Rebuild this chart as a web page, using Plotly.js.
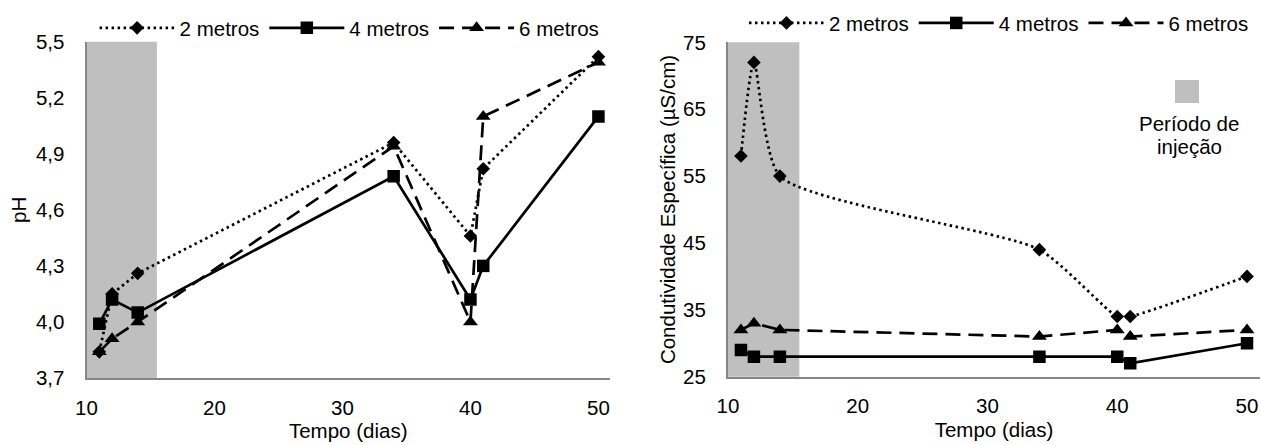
<!DOCTYPE html>
<html><head><meta charset="utf-8">
<script src="https://cdn.plot.ly/plotly-3.0.1.min.js"></script>
<style>html,body{margin:0;padding:0;background:#fff}#chart{width:1261px;height:445px}</style>
</head><body><div id="chart"></div>
<script>
const dias = [11, 12, 14, 34, 40, 41, 50];
const ph2m = [3.84, 4.15, 4.26, 4.96, 4.46, 4.82, 5.42];
const ph4m = [3.99, 4.12, 4.05, 4.78, 4.12, 4.30, 5.10];
const ph6m = [3.84, 3.91, 4.00, 4.94, 4.00, 5.10, 5.39];
const ce2m = [58, 72, 55, 44, 34, 34, 40];
const ce4m = [29, 28, 28, 28, 28, 27, 30];
const ce6m = [32, 33, 32, 31, 32, 31, 32];
const seriesNames = ['2 metros', '4 metros', '6 metros'];
const periodoInjecao = [10, 15.5];
const phTicks = [3.7, 4.0, 4.3, 4.6, 4.9, 5.2, 5.5];
const ceTicks = [25, 35, 45, 55, 65, 75];
const xTicks = [10, 20, 30, 40, 50];

const FONT = 'Liberation Sans, Arial, sans-serif';
const FS = 20.5;
const styles = [
  {dash: '2.5px,3.5px', symbol: 'diamond', size: 10.5},
  {dash: 'solid', symbol: 'square', size: 12.5},
  {dash: '15px,8px', symbol: 'triangle-up', size: 13}
];

function mk(y, i, xa, ya, leg, shape) {
  return {
    x: dias, y: y, name: seriesNames[i], type: 'scatter', mode: 'lines+markers',
    xaxis: xa, yaxis: ya, legend: leg,
    line: {color: '#000', width: 2.7, dash: styles[i].dash, shape: shape, smoothing: 0.6},
    marker: {color: '#000', symbol: styles[i].symbol, size: styles[i].size}
  };
}

const data = [
  mk(ph2m, 0, 'x', 'y', 'legend', 'linear'),
  mk(ph4m, 1, 'x', 'y', 'legend', 'linear'),
  mk(ph6m, 2, 'x', 'y', 'legend', 'linear'),
  mk(ce2m, 0, 'x2', 'y2', 'legend2', 'spline'),
  mk(ce4m, 1, 'x2', 'y2', 'legend2', 'linear'),
  mk(ce6m, 2, 'x2', 'y2', 'legend2', 'linear')
];

const xBase = {
  tickvals: xTicks, ticks: '', showgrid: false, zeroline: false,
  showline: true, linecolor: '#868686', linewidth: 2,
  tickfont: {family: FONT, size: FS, color: '#000'},
  ticklabelstandoff: 10,
  title: {text: 'Tempo (dias)', font: {family: FONT, size: FS, color: '#000'}, standoff: 6},
  automargin: false, fixedrange: true
};
const yBase = {
  ticks: '', showgrid: false, zeroline: false,
  showline: true, linecolor: '#868686', linewidth: 2,
  tickfont: {family: FONT, size: FS, color: '#000'},
  ticklabelstandoff: 16,
  automargin: false, fixedrange: true
};

const layout = {
  width: 1261, height: 445,
  margin: {l: 0, r: 0, t: 0, b: 0},
  paper_bgcolor: '#fff', plot_bgcolor: 'rgba(0,0,0,0)',
  separators: ',.',
  font: {family: FONT, size: FS, color: '#000'},
  xaxis: Object.assign({}, xBase, {domain: [0.0686, 0.4837], range: [10, 50.9], anchor: 'y'}),
  yaxis: Object.assign({}, yBase, {domain: [0.1506, 0.9063], range: [3.7, 5.5], tickvals: phTicks,
    tickformat: '.1f', anchor: 'x',
    title: {text: 'pH', font: {family: FONT, size: FS, color: '#000'}, standoff: 4}}),
  xaxis2: Object.assign({}, xBase, {domain: [0.5773, 0.9992], range: [10, 51], anchor: 'y2'}),
  yaxis2: Object.assign({}, yBase, {domain: [0.1535, 0.9049], range: [25, 75], tickvals: ceTicks,
    anchor: 'x2',
    title: {text: 'Condutividade Específica (µS/cm)', font: {family: FONT, size: FS, color: '#000'}, standoff: 2}}),
  legend: {orientation: 'h', x: 0.075, xanchor: 'left', y: 0.982, yanchor: 'top',
    font: {family: FONT, size: FS, color: '#000'}, itemwidth: 75, bgcolor: 'rgba(0,0,0,0)', traceorder: 'normal'},
  legend2: {orientation: 'h', x: 0.59, xanchor: 'left', y: 0.993, yanchor: 'top',
    font: {family: FONT, size: FS, color: '#000'}, itemwidth: 75, bgcolor: 'rgba(0,0,0,0)', traceorder: 'normal'},
  shapes: [
    {type: 'rect', xref: 'x', yref: 'y domain', x0: periodoInjecao[0], x1: periodoInjecao[1], y0: 0, y1: 1,
     fillcolor: '#bfbfbf', line: {width: 0}, layer: 'below'},
    {type: 'rect', xref: 'x2', yref: 'y2 domain', x0: periodoInjecao[0], x1: periodoInjecao[1], y0: 0, y1: 1,
     fillcolor: '#bfbfbf', line: {width: 0}, layer: 'below'},
    {type: 'rect', xref: 'paper', yref: 'paper', x0: 1175/1261, x1: 1199/1261, y0: 1 - 103/445, y1: 1 - 80/445,
     fillcolor: '#bfbfbf', line: {width: 0}}
  ],
  annotations: [
    {xref: 'paper', yref: 'paper', x: 1189/1261, y: 1 - 124/445, text: 'Período de', showarrow: false,
     xanchor: 'center', yanchor: 'middle', font: {family: FONT, size: FS, color: '#000'}},
    {xref: 'paper', yref: 'paper', x: 1189/1261, y: 1 - 146/445, text: 'injeção', showarrow: false,
     xanchor: 'center', yanchor: 'middle', font: {family: FONT, size: FS, color: '#000'}}
  ],
  showlegend: true
};

Plotly.newPlot('chart', data, layout, {displayModeBar: false, staticPlot: true});
</script></body></html>
